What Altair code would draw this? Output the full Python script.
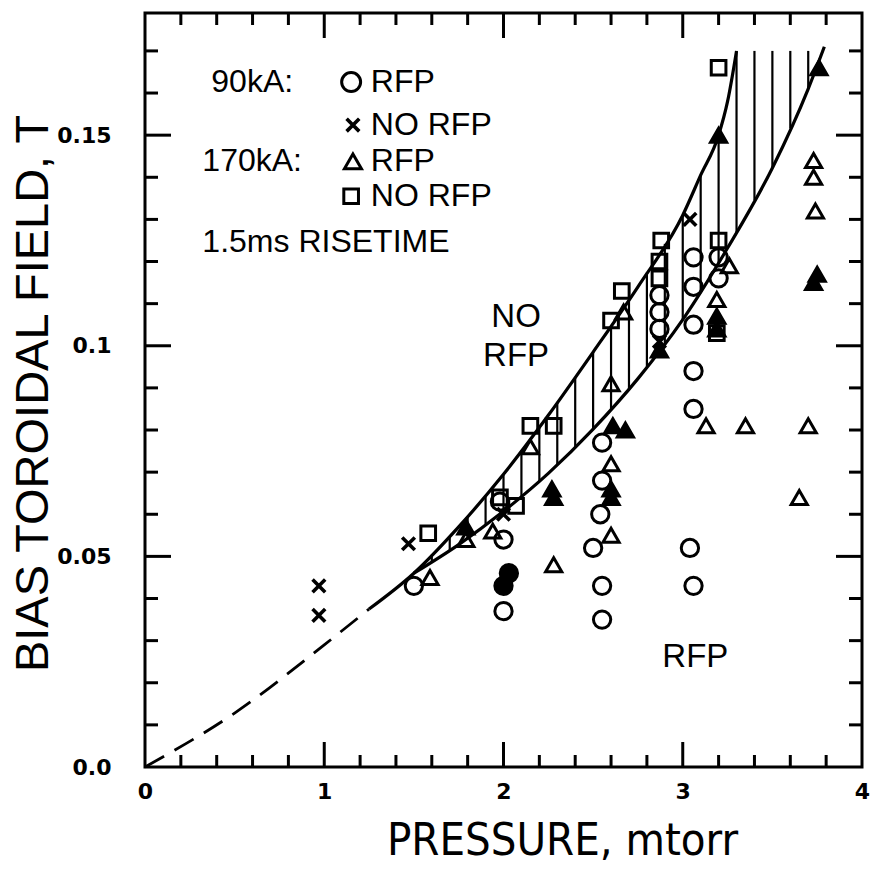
import altair as alt
import numpy as np
import pandas as pd

# ---------------- values ----------------
# 90 kA, RFP (open circles; f=1 where the printed symbols merge into a black blob)
circle_p = [1.50, 2.00, 2.00, 2.03, 2.00, 1.98, 2.55, 2.55, 2.54, 2.50, 2.55, 2.55,
            3.06, 3.06, 3.06, 3.06, 3.06, 3.04, 3.06, 3.20, 3.20, 2.87, 2.87, 2.87]
circle_b = [0.043, 0.054, 0.043, 0.046, 0.037, 0.063, 0.077, 0.068, 0.060, 0.052, 0.043, 0.035,
            0.121, 0.114, 0.105, 0.094, 0.085, 0.052, 0.043, 0.121, 0.116, 0.112, 0.108, 0.104]
circle_f = [0, 0, 1, 1, 0, 0, 0, 0, 0, 0, 0, 0,
            0, 0, 0, 0, 0, 0, 0, 0, 0, 0, 0, 0]

# 90 kA, NO RFP (crosses)
cross_p = [0.97, 0.97, 1.47, 2.00, 3.04, 2.87]
cross_b = [0.043, 0.036, 0.053, 0.060, 0.130, 0.101]

# 170 kA, RFP (triangles)
tri_p = [1.59, 1.79, 1.79, 1.94, 2.15, 2.28, 2.28, 2.27, 2.60, 2.60, 2.60, 2.60,
         2.61, 2.68, 2.60, 2.67, 2.87, 3.13, 3.35, 3.70, 3.65, 3.73, 3.75, 3.73,
         3.73, 3.74, 3.76, 3.20, 3.26, 3.19, 3.19, 3.19]
tri_b = [0.045, 0.054, 0.057, 0.056, 0.076, 0.048, 0.064, 0.066, 0.055, 0.064, 0.066, 0.072,
         0.081, 0.080, 0.091, 0.108, 0.099, 0.081, 0.081, 0.081, 0.064, 0.115, 0.117, 0.144,
         0.140, 0.132, 0.166, 0.150, 0.119, 0.111, 0.107, 0.104]
tri_f = [0, 0, 1, 0, 0, 0, 1, 1, 0, 1, 1, 0,
         1, 1, 0, 0, 1, 0, 0, 0, 0, 1, 1, 0,
         0, 0, 1, 1, 0, 0, 1, 1]

# 170 kA, NO RFP (squares)
sq_p = [1.58, 1.98, 2.07, 2.15, 2.28, 2.60, 2.66, 2.88, 2.87, 2.87, 3.20, 3.19, 3.20]
sq_b = [0.0555, 0.064, 0.062, 0.081, 0.081, 0.106, 0.113, 0.125, 0.120, 0.116, 0.125, 0.103, 0.166]

# boundary curves of the hatched transition band
upper_p = [1.25, 1.5, 1.75, 2.0, 2.25, 2.5, 2.75, 3.0, 3.1, 3.2, 3.25, 3.3]
upper_b = [0.0375, 0.046, 0.057, 0.0695, 0.0835, 0.0985, 0.114, 0.131, 0.1405, 0.150, 0.158, 0.170]
lower_p = [1.5, 1.75, 2.0, 2.25, 2.5, 2.75, 3.0, 3.25, 3.5, 3.7, 3.79]
lower_b = [0.046, 0.0528, 0.0607, 0.0697, 0.0802, 0.0922, 0.1062, 0.1232, 0.1422, 0.161, 0.171]
# dashed extrapolation to the origin
dash_p = [0.0, 0.5, 1.0, 1.25]
dash_b = [0.0, 0.0128, 0.0290, 0.0375]
# vertical hatching positions
hatch_p = [1.6, 1.7, 1.8, 1.9, 2.0, 2.1, 2.2, 2.3, 2.4, 2.5, 2.6, 2.7, 2.8, 2.9,
           3.0, 3.1, 3.2, 3.3, 3.4, 3.5, 3.6, 3.7]
hatch_top = 0.170

# region labels
ann_text = ["NO", "RFP", "RFP"]
ann_p = [2.07, 2.07, 3.07]
ann_b = [0.1068, 0.0975, 0.026]

# in-plot key
key_text = ["90kA:", "RFP", "NO RFP", "170kA:", "RFP", "NO RFP", "1.5ms RISETIME"]
key_p = [0.37, 1.26, 1.26, 0.32, 1.26, 1.26, 0.32]
key_b = [0.1626, 0.1626, 0.1524, 0.1438, 0.1438, 0.1355, 0.1246]
key_circle = ([1.15], [0.1626])
key_cross = ([1.16], [0.1524])
key_tri = ([1.16], [0.1438])
key_sq = ([1.15], [0.1355])

# axes
x_labels = [0, 1, 2, 3, 4]
y_labels = [0.0, 0.05, 0.10, 0.15]
x_major = [1, 2, 3]
x_minor = [0.2, 0.4, 0.6, 0.8, 1.2, 1.4, 1.6, 1.8, 2.2, 2.4, 2.6, 2.8, 3.2, 3.4, 3.6, 3.8]
y_major = [0.05, 0.10, 0.15]
y_minor = [0.01, 0.02, 0.03, 0.04, 0.06, 0.07, 0.08, 0.09, 0.11, 0.12, 0.13, 0.14, 0.16, 0.17]

# ---------------- chart ----------------
W, H = 717, 754
TXT = "Liberation Sans, Arial, sans-serif"
XTITLE_FONT = "Liberation Sans Narrow, DejaVu Sans Condensed, Liberation Sans, sans-serif"
YTITLE_FONT = "Liberation Sans, Arial, sans-serif"

xs = alt.Scale(domain=[0, 4], nice=False, zero=False)
ys = alt.Scale(domain=[0, 0.179], nice=False, zero=False)
ax_x = alt.Axis(values=x_labels, format="d", title="PRESSURE, mtorr", ticks=False, domain=False,
                grid=False, labelFlush=False, labelPadding=14, titleX=417, titleY=73,
                titleBaseline="middle", titleAlign="center", titleFont=XTITLE_FONT,
                titleFontSize=45)
ax_y = alt.Axis(values=y_labels, labelExpr="datum.value == 0 ? '0.0' : format(datum.value, '.2~f')",
                title="BIAS TOROIDAL FIELD, T", ticks=False, domain=False, grid=False,
                labelFlush=False, labelPadding=34, titleX=-112, titleY=380,
                titleBaseline="middle", titleAlign="center", titleAngle=-90,
                titleFont=YTITLE_FONT, titleFontSize=47)


def X(field="p"):
    return alt.X(f"{field}:Q", scale=xs, axis=ax_x)


def Y(field="b"):
    return alt.Y(f"{field}:Q", scale=ys, axis=ax_y)


# hatching
hatch_lo = np.interp(hatch_p, lower_p, lower_b)
hatch_hi = np.minimum(np.interp(hatch_p, upper_p, upper_b), hatch_top)
hatch_df = pd.DataFrame({"p": hatch_p, "b": hatch_lo, "b2": hatch_hi})
hatch = alt.Chart(hatch_df).mark_rule(color="black", strokeWidth=2.2).encode(
    x=X(), y=Y(), y2="b2:Q")

upper = alt.Chart(pd.DataFrame({"p": upper_p, "b": upper_b})).mark_line(
    color="black", strokeWidth=3.2, interpolate="monotone").encode(x=X(), y=Y())
lower = alt.Chart(pd.DataFrame({"p": lower_p, "b": lower_b})).mark_line(
    color="black", strokeWidth=3.2, interpolate="monotone").encode(x=X(), y=Y())
dashed = alt.Chart(pd.DataFrame({"p": dash_p, "b": dash_b})).mark_line(
    color="black", strokeWidth=2.8, strokeDash=[22, 12], interpolate="monotone").encode(x=X(), y=Y())


# inward ticks on all four sides
def xticks(vals, length):
    df = pd.DataFrame({"p": vals})
    bot = alt.Chart(df).mark_rule(color="black", strokeWidth=3).encode(
        x=X(), y=alt.value(H), y2=alt.value(H - length))
    top = alt.Chart(df).mark_rule(color="black", strokeWidth=3).encode(
        x=X(), y=alt.value(0), y2=alt.value(length))
    return [bot, top]


def yticks(vals, length):
    df = pd.DataFrame({"b": vals})
    left = alt.Chart(df).mark_rule(color="black", strokeWidth=3).encode(
        y=Y(), x=alt.value(0), x2=alt.value(length))
    right = alt.Chart(df).mark_rule(color="black", strokeWidth=3).encode(
        y=Y(), x=alt.value(W), x2=alt.value(W - length))
    return [left, right]


ticks = xticks(x_major, 25) + xticks(x_minor, 12) + yticks(y_major, 26) + yticks(y_minor, 13)

CROSS = "M-1,-1L1,1M-1,1L1,-1"


def sym(ps, bs, fs, shape, size, sw):
    df = pd.DataFrame({"p": ps, "b": bs, "f": fs})
    return alt.Chart(df).mark_point(shape=shape, size=size, filled=True, fill="black",
                                    stroke="black", strokeWidth=sw, opacity=1).encode(
        x=X(), y=Y(), fillOpacity=alt.FillOpacity("f:Q", scale=None))


symbols = [
    sym(circle_p, circle_b, circle_f, "circle", 300, 3),
    sym(cross_p, cross_b, [0] * len(cross_p), CROSS, 160, 3.6),
    sym(tri_p, tri_b, tri_f, "triangle-up", 260, 3),
    sym(sq_p, sq_b, [0] * len(sq_p), "square", 215, 3),
    sym(key_circle[0], key_circle[1], [0], "circle", 360, 3),
    sym(key_cross[0], key_cross[1], [0], CROSS, 160, 3.6),
    sym(key_tri[0], key_tri[1], [0], "triangle-up", 290, 3),
    sym(key_sq[0], key_sq[1], [0], "square", 215, 3),
]

ann = alt.Chart(pd.DataFrame({"p": ann_p, "b": ann_b, "t": ann_text})).mark_text(
    align="center", baseline="middle", font=TXT, fontSize=33, color="black").encode(
    x=X(), y=Y(), text="t:N")
key = alt.Chart(pd.DataFrame({"p": key_p, "b": key_b, "t": key_text})).mark_text(
    align="left", baseline="middle", font=TXT, fontSize=32, color="black").encode(
    x=X(), y=Y(), text="t:N")

chart = alt.layer(hatch, upper, lower, dashed, *ticks, *symbols, ann, key).properties(
    width=W, height=H,
    padding={"left": 145, "top": 13, "right": 871 - 145 - W, "bottom": 103},
    autosize=alt.AutoSizeParams(type="none"),
    background="white",
).configure_view(stroke="black", strokeWidth=3).configure_axis(
    labelFont="DejaVu Sans", labelFontSize=22, labelFontWeight="bold", labelColor="black",
    titleFontWeight="normal", titleColor="black",
)

chart.save("out.html", embed_options={"renderer": "svg", "actions": False})
